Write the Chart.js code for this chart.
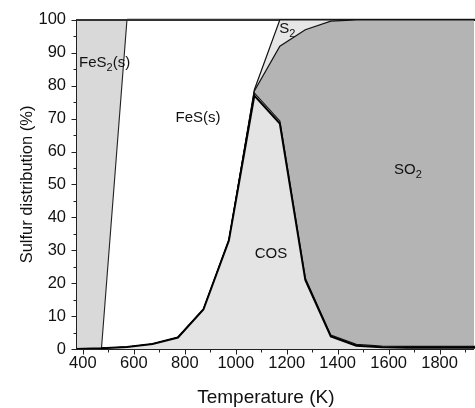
<!DOCTYPE html>
<html>
<head>
<meta charset="utf-8">
<script src="https://cdn.jsdelivr.net/npm/chart.js@4.4.1/dist/chart.umd.min.js"></script>
<style>
html,body{margin:0;padding:0;background:#fff;overflow:hidden}
#wrap{width:475px;height:408px;position:relative}
</style>
</head>
<body>
<div id="wrap"><canvas id="c" width="475" height="408"></canvas></div>
<script>
// ---- data (K, % of sulfur) ----
const temperature = [373, 473, 573, 673, 773, 873, 973, 1073, 1173, 1273, 1373, 1473, 1573, 1673, 1773, 1873, 1973];
const cos      = [0, 0.2, 0.6, 1.5, 3.5, 12, 33, 77, 68.5, 21, 3.8, 1.0, 0.5, 0.4, 0.4, 0.4, 0.4];
const minorGas = [0, 0, 0, 0, 0, 0, 0, 0.8, 0.8, 0.5, 0.4, 0.4, 0.4, 0.4, 0.4, 0.4, 0.4];
const so2      = [0, 0, 0, 0, 0, 0, 0, 0.6, 22.7, 75.5, 95.4, 98.6, 99.1, 99.2, 99.2, 99.2, 99.2];
const s2       = [0, 0, 0, 0, 0, 0, 0, 0.4, 8, 3, 0.4, 0, 0, 0, 0, 0, 0];
const fes      = [0, 0, 99.4, 98.5, 96.5, 88, 67, 21.2, 0, 0, 0, 0, 0, 0, 0, 0, 0];
const fes2     = [100, 99.8, 0, 0, 0, 0, 0, 0, 0, 0, 0, 0, 0, 0, 0, 0, 0];

const xTickLabels = [400, 600, 800, 1000, 1200, 1400, 1600, 1800];
const xTickMarks  = [400, 500, 600, 700, 800, 900, 1000, 1100, 1200, 1300, 1400, 1500, 1600, 1700, 1800, 1900];
const yTickLabels = [0, 10, 20, 30, 40, 50, 60, 70, 80, 90, 100];
const yTickMarks  = [0, 5, 10, 15, 20, 25, 30, 35, 40, 45, 50, 55, 60, 65, 70, 75, 80, 85, 90, 95, 100];

const xTitle = 'Temperature (K)';
const yTitle = 'Sulfur distribution (%)';
const regionNames = ['FeS2(s)', 'FeS(s)', 'COS', 'S2', 'SO2'];
// anchor of each region label, in data units (temperature, %)
const regionAnchors = [
  {t: 385, v: 87.0, align: 'left'},
  {t: 852, v: 70.2, align: 'center'},
  {t: 1138, v: 28.9, align: 'center'},
  {t: 1171, v: 97.3, align: 'left'},
  {t: 1621, v: 54.5, align: 'left'}
];
const xTitleAnchorT = 1118;

const FONT = "Arial, 'Liberation Sans', Helvetica, sans-serif";
const pts = arr => arr.map((v, i) => ({x: temperature[i], y: v}));

function splitSub(str) {
  // digits following a letter are subscripts
  const parts = [];
  let i = 0;
  const subAt = k => /[0-9]/.test(str[k]) && k > 0 && /[A-Za-z]/.test(str[k - 1]);
  while (i < str.length) {
    if (subAt(i)) { parts.push([str[i], true]); i++; continue; }
    let buf = '';
    while (i < str.length && !subAt(i)) { buf += str[i]; i++; }
    parts.push([buf, false]);
  }
  return parts;
}

function drawRich(ctx, text, x, y, align, size) {
  const parts = splitSub(text);
  const sub = Math.round(size * 0.72);
  const widths = parts.map(p => { ctx.font = (p[1] ? sub : size) + 'px ' + FONT; return ctx.measureText(p[0]).width; });
  const total = widths.reduce((a, b) => a + b, 0);
  let cx = align === 'left' ? x : x - total / 2;
  ctx.textAlign = 'left';
  ctx.textBaseline = 'middle';
  parts.forEach((p, i) => {
    ctx.font = (p[1] ? sub : size) + 'px ' + FONT;
    ctx.fillText(p[0], cx, p[1] ? y + 5 : y);
    cx += widths[i];
  });
}

const axesPlugin = {
  id: 'axesAndLabels',
  afterDatasetsDraw(chart) {
    const {ctx, chartArea: a, scales: {x, y}} = chart;
    ctx.save();
    ctx.fillStyle = '#111';
    regionNames.forEach((name, i) => {
      const an = regionAnchors[i];
      drawRich(ctx, name, x.getPixelForValue(an.t), y.getPixelForValue(an.v), an.align, 15);
    });
    // x axis title
    ctx.font = '19px ' + FONT;
    ctx.textAlign = 'center';
    ctx.textBaseline = 'middle';
    ctx.fillText(xTitle, x.getPixelForValue(xTitleAnchorT), 397.5);
    // axes lines and tick marks
    ctx.strokeStyle = '#222';
    ctx.lineWidth = 1;
    ctx.beginPath();
    const xl = Math.round(a.left) + 0.5;
    const yb = Math.round(a.bottom) + 0.5;
    ctx.moveTo(xl, a.top); ctx.lineTo(xl, yb);
    ctx.moveTo(xl, yb); ctx.lineTo(a.right, yb);
    xTickMarks.forEach(v => {
      const px = Math.round(x.getPixelForValue(v)) + 0.5;
      const len = xTickLabels.includes(v) ? 5 : 3;
      ctx.moveTo(px, yb); ctx.lineTo(px, yb + len);
    });
    yTickMarks.forEach(v => {
      const py = Math.round(y.getPixelForValue(v)) + 0.5;
      const len = yTickLabels.includes(v) ? 5 : 3;
      ctx.moveTo(xl, py); ctx.lineTo(xl - len, py);
    });
    ctx.stroke();
    ctx.restore();
  }
};

new Chart(document.getElementById('c'), {
  type: 'line',
  data: {
    datasets: [
      {label: 'COS', data: pts(cos), fill: 'origin', backgroundColor: '#e4e4e4', borderColor: '#000', borderWidth: 2},
      {label: 'minor', data: pts(minorGas), fill: '-1', backgroundColor: '#e4e4e4', borderColor: '#111', borderWidth: 1.2},
      {label: 'SO2', data: pts(so2), fill: '-1', backgroundColor: '#b4b4b4', borderColor: '#111', borderWidth: 1.2},
      {label: 'S2', data: pts(s2), fill: '-1', backgroundColor: '#e6e6e6', borderColor: '#111', borderWidth: 1.2},
      {label: 'FeS(s)', data: pts(fes), fill: '-1', backgroundColor: '#ffffff', borderColor: '#222', borderWidth: 1.1,
        segment: {borderWidth: c => (c.p0DataIndex >= 2 ? 2.4 : 1.1), borderColor: c => (c.p0DataIndex >= 2 ? '#333' : '#222')}},
      {label: 'FeS2(s)', data: pts(fes2), fill: '-1', backgroundColor: '#d9d9d9', borderColor: '#333', borderWidth: 2}
    ]
  },
  options: {
    responsive: false,
    animation: false,
    layout: {padding: {top: 17, right: 1, left: 0, bottom: 0}},
    elements: {point: {radius: 0}, line: {tension: 0}},
    datasets: {line: {clip: 3}},
    plugins: {legend: {display: false}, tooltip: {enabled: false}},
    scales: {
      x: {
        type: 'linear', min: 373, max: 1935,
        afterBuildTicks: s => { s.ticks = xTickLabels.map(v => ({value: v})); },
        afterFit: s => { s.height = 59; },
        ticks: {font: {size: 16.5, family: FONT}, color: '#111', padding: 5, maxRotation: 0, autoSkip: false, callback: v => String(v)},
        grid: {display: true, drawOnChartArea: false, drawTicks: false},
        border: {display: false},
        title: {display: false}
      },
      y: {
        stacked: true, min: 0, max: 100,
        afterBuildTicks: s => { s.ticks = yTickLabels.map(v => ({value: v})); },
        afterFit: s => { s.width = 76; },
        ticks: {font: {size: 16.5, family: FONT}, color: '#111', padding: 10, callback: v => String(v)},
        grid: {display: true, drawOnChartArea: false, drawTicks: false},
        border: {display: false},
        title: {display: true, text: yTitle, color: '#111', font: {size: 16.5, family: FONT, lineHeight: 1}, padding: {top: 19, bottom: 0}}
      }
    }
  },
  plugins: [axesPlugin]
});
</script>
</body>
</html>
